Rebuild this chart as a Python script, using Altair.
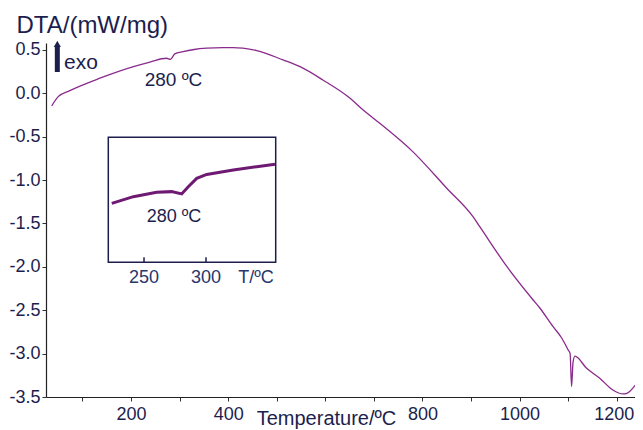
import altair as alt
import pandas as pd

# Main DTA curve
temp_main = [36.6, 50, 74, 136, 205, 239, 273, 281, 290, 307, 330, 356, 389, 410, 430, 459,
             513, 548, 595, 651, 678, 712, 780, 850, 904, 918, 974, 1025, 1042, 1069,
             1087, 1100, 1104, 1107, 1110, 1114, 1138, 1165, 1192, 1213, 1221, 1241]
dta_main = [-0.146, -0.038, 0.031, 0.174, 0.307, 0.36, 0.404, 0.392, 0.454, 0.480, 0.505, 0.520,
            0.527, 0.527, 0.520, 0.492, 0.385, 0.307, 0.154, -0.057, -0.192, -0.345, -0.672,
            -1.094, -1.422, -1.537, -1.998, -2.362, -2.477, -2.690, -2.823, -2.958, -3.00,
            -3.38, -3.10, -3.03, -3.169, -3.284, -3.419, -3.465, -3.457, -3.342]

# Inset (zoom around 280 °C)
temp_inset = [224, 241.4, 260.2, 272.3, 280.4, 285.7, 292.5, 300.6, 322, 340.9, 355.6]
dta_inset = [0.350, 0.379, 0.398, 0.401, 0.391, 0.422, 0.459, 0.476, 0.495, 0.510, 0.520]

x_ticks = list(range(100, 1300, 100))
x_labels = [200, 400, 800, 1000, 1200]
y_ticks = [-3.5 + 0.25 * i for i in range(17)]
inset_ticks = [250, 300]

NAVY = "#1c1e4e"
LINE = "#8a2a8c"
FONT = "Liberation Sans"

X_DOM = [24.9, 1237.6]
Y_DOM = [-3.5, 0.58]
IX_DOM = [221.2, 356.2]
IY_DOM = [0.0927, 0.638]

main_df = pd.DataFrame({"T": temp_main, "DTA": dta_main})
inset_df = pd.DataFrame({"Ti": temp_inset, "Vi": dta_inset})

xs = alt.Scale(domain=X_DOM, nice=False, zero=False)
ys = alt.Scale(domain=Y_DOM, nice=False, zero=False)

x_axis = alt.Axis(
    values=x_ticks,
    format="d",
    labelExpr="indexof(" + str(x_labels) + ", datum.value) >= 0 ? datum.label : ''",
    labelOffset={"condition": {"test": "datum.value == 1200", "value": -3}, "value": 0},
    title="Temperature/ºC",
    titleX=280, titleY=21, titleAlign="center", titleBaseline="middle",
    titleFontSize=20, titleFontWeight="normal", titleColor=NAVY, titleFont=FONT,
    labelFontSize=18, labelColor=NAVY, labelFont=FONT, labelPadding=4,
    tickSize=4, tickColor="#333", domainColor="#222", domainWidth=1.2,
    grid=False, labelOverlap=False, labelFlush=False,
)
y_axis = alt.Axis(
    values=y_ticks,
    labelExpr="(datum.value*2) % 1 == 0 ? (datum.value < 0 ? '-' : '') + format(abs(datum.value), '.1f') : ''",
    title="DTA/(mW/mg)",
    titleAngle=0, titleX=-30, titleY=-18, titleAlign="left", titleBaseline="middle",
    titleFontSize=24, titleFontWeight="normal", titleColor=NAVY, titleFont=FONT,
    labelFontSize=18, labelColor=NAVY, labelFont=FONT, labelPadding=2,
    tickSize=4, tickColor="#333", domainColor="#222", domainWidth=1.2,
    grid=False, labelOverlap=False, labelFlush=False,
)

main_line = alt.Chart(main_df).mark_line(color=LINE, strokeWidth=1.3, interpolate="monotone").encode(
    x=alt.X("T:Q", scale=xs, axis=x_axis),
    y=alt.Y("DTA:Q", scale=ys, axis=y_axis),
)

ann_df = pd.DataFrame({"T": [287.4], "DTA": [0.15], "txt": ["280 ºC"]})
ann = alt.Chart(ann_df).mark_text(fontSize=19, color=NAVY, font=FONT, align="center", baseline="middle").encode(
    x=alt.X("T:Q", scale=xs), y=alt.Y("DTA:Q", scale=ys), text="txt:N")

exo_df = pd.DataFrame({"T": [62], "DTA": [0.35], "txt": ["exo"]})
exo = alt.Chart(exo_df).mark_text(fontSize=21, color=NAVY, font=FONT, align="left", baseline="middle").encode(
    x=alt.X("T:Q", scale=xs), y=alt.Y("DTA:Q", scale=ys), text="txt:N")

arrow_df = pd.DataFrame({"T": [48.2], "y1": [0.246], "y2": [0.54], "tip": [0.57]})
arrow_shaft = alt.Chart(arrow_df).mark_rule(color=NAVY, strokeWidth=5).encode(
    x=alt.X("T:Q", scale=xs), y=alt.Y("y1:Q", scale=ys), y2="y2:Q")
arrow_head = alt.Chart(arrow_df).mark_point(shape="triangle-up", filled=True, color=NAVY, size=50, opacity=1).encode(
    x=alt.X("T:Q", scale=xs), y=alt.Y("tip:Q", scale=ys))

main = alt.layer(main_line, ann, exo, arrow_shaft, arrow_head)

# inset
ixs = alt.Scale(domain=IX_DOM, range=[62.3, 229.7], nice=False, zero=False)
iys = alt.Scale(domain=IY_DOM, range=[219.3, 94.3], nice=False, zero=False)

box_df = pd.DataFrame({"a": [IX_DOM[0]], "b": [IX_DOM[1]], "c": [IY_DOM[0]], "d": [IY_DOM[1]]})
box = alt.Chart(box_df).mark_rect(fill="white", fillOpacity=0, stroke=NAVY, strokeWidth=1.5).encode(
    x=alt.X("a:Q", scale=ixs, axis=None), x2="b:Q",
    y=alt.Y("c:Q", scale=iys, axis=None), y2="d:Q")

inset_line = alt.Chart(inset_df).mark_line(color="#6e1a72", strokeWidth=3).encode(
    x=alt.X("Ti:Q", scale=ixs, axis=None),
    y=alt.Y("Vi:Q", scale=iys, axis=None),
)

itick_df = pd.DataFrame({"Ti": inset_ticks, "y1": [IY_DOM[0]] * 2, "y2": [IY_DOM[0] + 0.022] * 2,
                         "ly": [0.0243] * 2, "lab": [str(v) for v in inset_ticks]})
iticks = alt.Chart(itick_df).mark_rule(color=NAVY, strokeWidth=1.5).encode(
    x=alt.X("Ti:Q", scale=ixs, axis=None), y=alt.Y("y1:Q", scale=iys, axis=None), y2="y2:Q")
ilabels = alt.Chart(itick_df).mark_text(fontSize=18, color="#28366b", font=FONT, baseline="middle").encode(
    x=alt.X("Ti:Q", scale=ixs, axis=None), y=alt.Y("ly:Q", scale=iys, axis=None), text="lab:N")

itxt_df = pd.DataFrame({"Ti": [340.3, 274.2], "Vi": [0.0243, 0.290], "txt": ["T/ºC", "280 ºC"],
                        "col": ["#28366b", NAVY]})
itexts = alt.Chart(itxt_df).mark_text(fontSize=18, font=FONT, baseline="middle").encode(
    x=alt.X("Ti:Q", scale=ixs, axis=None), y=alt.Y("Vi:Q", scale=iys, axis=None), text="txt:N",
    color=alt.Color("col:N", scale=None))

inset = alt.layer(box, inset_line, iticks, ilabels, itexts)

chart = alt.layer(main, inset).resolve_scale(x="independent", y="independent").properties(
    width=589, height=354,
    autosize=alt.AutoSizeParams(type="none"),
    padding={"left": 38, "top": 35, "right": 0, "bottom": 33},
    background="white",
).configure_view(stroke=None)

chart.save("out.html", embed_options={"renderer": "svg", "actions": False})
